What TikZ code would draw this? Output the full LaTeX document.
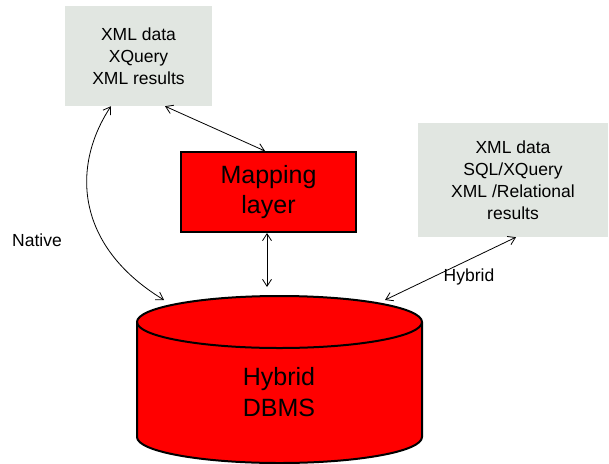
\documentclass[tikz,border=0pt]{standalone}
\usepackage{fontspec}
\setmainfont{Liberation Sans}
\usetikzlibrary{arrows.meta}
\definecolor{boxgrey}{HTML}{E1E6E1}
\tikzset{
  infobox/.style={fill=boxgrey, draw=none, align=center, inner sep=0pt,
    font=\fontsize{17.5}{22}\selectfont},
  redbox/.style={fill=red, draw=black, line width=2pt, align=center, inner sep=0pt,
    font=\fontsize{25}{30}\selectfont},
  link/.style={line width=0.8pt, {Straight Barb[length=7pt,width=9pt]}-{Straight Barb[length=7pt,width=9pt]}},
  plainlabel/.style={font=\fontsize{17.5}{21}\selectfont, inner sep=0pt}
}
\begin{document}
\begin{tikzpicture}[x=1pt,y=-1pt]
  \useasboundingbox (0,0) rectangle (609,463);
  \begin{scope}
    \clip (0,0) rectangle (609,463);
    % storage cylinder
    \filldraw[fill=red, draw=black, line width=2pt]
      (137,322) -- (137,437) arc[start angle=180, end angle=360, x radius=142.5, y radius=-26]
      -- (422,322) arc[start angle=0, end angle=180, x radius=142.5, y radius=-26] -- cycle;
    \draw[line width=2pt] (137,322) arc[start angle=180, end angle=360, x radius=142.5, y radius=-26];
  \end{scope}
  \node[font=\fontsize{25}{31}\selectfont, align=center, inner sep=0pt] (dbms) at (279,392) {Hybrid\\DBMS};
  \coordinate (dbmsL) at (164,300);
  \coordinate (dbmsM) at (267,287);
  \coordinate (dbmsR) at (385,300);

  % query/result boxes
  \node[infobox, minimum width=147, minimum height=100] (native) at (138.5,56) {XML data\\XQuery\\XML results};
  \node[infobox, minimum width=190, minimum height=114] (hybrid) at (513,180) {XML data\\SQL/XQuery\\XML /Relational\\results};

  % mapping layer
  \node[redbox, minimum width=175, minimum height=80] (map) at (268.5,192) {Mapping\\layer};

  % connectors
  \draw[link] (native.south -| 165,0) -- (map.north -| 265,0);
  \draw[link] (map.south -| 267,0) -- (dbmsM);
  \draw[link] (native.south -| 111,0) .. controls (72,165) and (74,245) .. (dbmsL);
  \draw[link] (dbmsR) -- (hybrid.south -| 516,0);

  % labels
  \node[plainlabel, anchor=west] (lnative) at (12,240) {Native};
  \node[plainlabel] (lhybrid) at (469,277) {Hybrid};
\end{tikzpicture}
\end{document}
